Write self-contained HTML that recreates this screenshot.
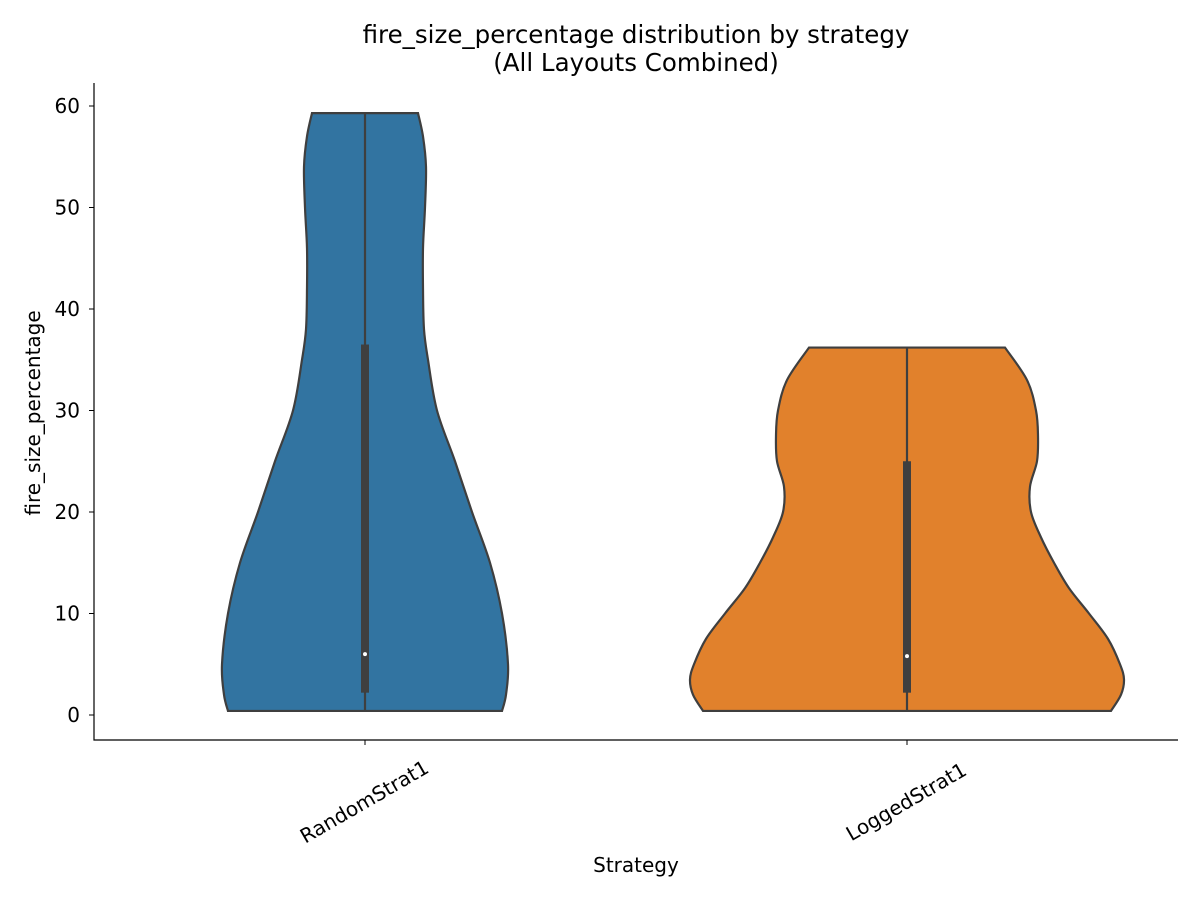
<!DOCTYPE html>
<html><head><meta charset="utf-8"><style>body{margin:0;background:#fff}svg{font-family:"DejaVu Sans","Liberation Sans",sans-serif}</style></head>
<body>
<svg id="chart" width="1200" height="900">
<text x="636" y="43" font-size="24.5" text-anchor="middle">fire_size_percentage distribution by strategy</text>
<text x="636" y="71" font-size="24.5" text-anchor="middle">(All Layouts Combined)</text>
<g id="plot"></g>
<text x="636" y="872" font-size="20" text-anchor="middle">Strategy</text>
<text transform="translate(40,413) rotate(-90)" font-size="20" text-anchor="middle">fire_size_percentage</text>
</svg>
<script>
const categories=["RandomStrat1","LoggedStrat1"];
const colors=["#3274a1","#e1812c"];
const yTicks=[0,10,20,30,40,50,60];
const randomY=[0.4,2,5,10,15,20,25,30,35,38,42,46,50,54,57,59.3];
const randomW=[137,141,143,137,125,107,90,72,63,59,58,58,60,61,58,53];
const loggedY=[0.4,2,3.5,5,7.5,10,12.5,15,17.5,20,22.5,25,27.5,30,33,36.2];
const loggedW=[204,214,217,213,201,182,162,147,134,124,123,130,131,129,120,98];
const stats=[{min:0.4,q1:2.2,med:6,q3:36.5,max:59.3},{min:0.4,q1:2.2,med:5.8,q3:25,max:36.2}];
const X0=94,X1=1178,Ytop=83,Ybot=740;
const yS=v=>715-v*10.15;
const xS=i=>365+i*542;
const NS="http://www.w3.org/2000/svg";
const g=document.getElementById('plot');
function mk(t,a){const e=document.createElementNS(NS,t);for(const k in a)e.setAttribute(k,a[k]);g.appendChild(e);return e;}
function smooth(pts){let d=`M${pts[0][0]},${pts[0][1]}`;for(let i=0;i<pts.length-1;i++){const p0=pts[Math.max(0,i-1)],p1=pts[i],p2=pts[i+1],p3=pts[Math.min(pts.length-1,i+2)];d+=` C${p1[0]+(p2[0]-p0[0])/6},${p1[1]+(p2[1]-p0[1])/6} ${p2[0]-(p3[0]-p1[0])/6},${p2[1]-(p3[1]-p1[1])/6} ${p2[0]},${p2[1]}`;}return d;}
const ax=mk('path',{d:`M${X0},${Ytop}V${Ybot}H${X1}`,fill:'none',stroke:'#000','stroke-width':1.2});

yTicks.forEach(v=>{
 const t=mk('line',{x1:X0-5,x2:X0,y1:yS(v),y2:yS(v),stroke:'#000'});
 
 const l=mk('text',{x:X0-14,y:yS(v)+7,'font-size':20,'text-anchor':'end'});l.textContent=v;
 
});
const Ys=[randomY,loggedY],Ws=[randomW,loggedW];
categories.forEach((c,i)=>{
 const cx=xS(i),ys=Ys[i],ws=Ws[i];
 const right=ys.map((y,k)=>[cx+ws[k],yS(y)]);
 const left=ys.map((y,k)=>[cx-ws[k],yS(y)]).reverse();
 let d=smooth(right)+' L'+smooth(left).slice(1)+'Z';
 const v=mk('path',{d,fill:colors[i],stroke:'#3f3f3f','stroke-width':2.2});
 
 const s=stats[i];
 const w=mk('line',{x1:cx,x2:cx,y1:yS(s.min),y2:yS(s.max),stroke:'#3f3f3f','stroke-width':2.2});
 
 const b=mk('rect',{x:cx-4,y:yS(s.q3),width:8,height:yS(s.q1)-yS(s.q3),fill:'#3f3f3f'});
 
 const m=mk('circle',{cx,cy:yS(s.med),r:2,fill:'#fff'});
 
 const t=mk('line',{x1:cx,x2:cx,y1:Ybot,y2:Ybot+5,stroke:'#000'});
 
 const l=mk('text',{transform:`translate(${cx},${Ybot+63}) rotate(-30)`,'font-size':20,'text-anchor':'middle','dominant-baseline':'middle'});l.textContent=c;
 
});
</script>
</body></html>
